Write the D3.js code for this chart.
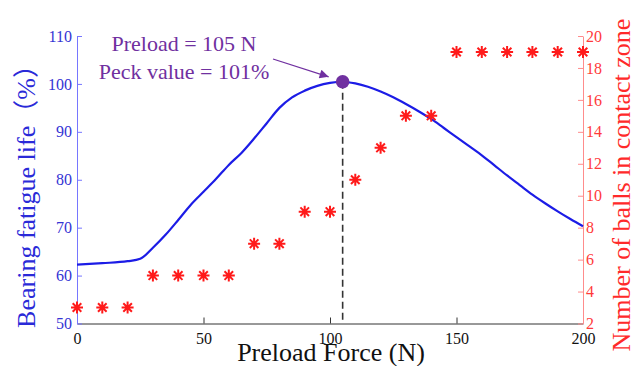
<!DOCTYPE html>
<html lang="en">
<head>
<meta charset="UTF-8" />
<title>Preload force</title>
<script src="https://d3js.org/d3.v7.min.js"></script>
<style>
	body { margin: 0; background: #fff; }
	svg text { font-family: "Liberation Serif", "Noto Sans CJK SC", serif; }
</style>
</head>
<body>
<script>
	// fatigue life curve (left axis, %)
	var lifeForce = [0, 10, 20, 25, 30, 35, 40, 45, 50, 55, 60, 65, 70, 75, 80, 85, 90, 95, 100, 105,
		110, 115, 120, 125, 130, 135, 140, 145, 150, 155, 160, 165, 170, 175, 180, 185, 190, 195, 200];
	var lifeValue = [62.3, 62.6, 63.0, 63.5, 65.8, 68.5, 71.6, 74.8, 77.5, 80.2, 83.1, 85.6, 88.6, 91.8, 95.0, 97.2, 98.6, 99.6, 100.2, 100.45,
		100.1, 99.4, 98.4, 97.2, 95.8, 94.3, 92.7, 90.8, 88.9, 87.0, 85.1, 83.0, 80.9, 78.9, 76.9, 75.1, 73.4, 71.8, 70.3];

	// number of balls in contact zone (right axis)
	var ballForce = [0, 10, 20, 30, 40, 50, 60, 70, 80, 90, 100, 110, 120, 130, 140, 150, 160, 170, 180, 190, 200];
	var ballCount = [3, 3, 3, 5, 5, 5, 5, 7, 7, 9, 9, 11, 13, 15, 15, 19, 19, 19, 19, 19, 19];

	var xTicks = [0, 50, 100, 150, 200];
	var lifeTicks = [50, 60, 70, 80, 90, 100, 110];
	var ballTicks = [2, 4, 6, 8, 10, 12, 14, 16, 18, 20];

	var peakForce = 105, peakLife = 100.45;
	var noteLines = ["Preload = 105 N", "Peck value = 101%"];

	var W = 635, H = 366;
	var margin = { top: 36, right: 52, bottom: 42.5, left: 77 };
	var width = W - margin.left - margin.right,
		height = H - margin.top - margin.bottom;

	var blue = "#1c1ce6", red = "#ff1a1a", purple = "#7030a0";

	var x = d3.scaleLinear().domain([0, 200]).range([0, width]);
	var yL = d3.scaleLinear().domain([50, 110]).range([height, 0]);
	var yR = d3.scaleLinear().domain([2, 20]).range([height, 0]);

	var svg = d3.select("body").append("svg")
		.attr("width", W).attr("height", H);
	var g = svg.append("g")
		.attr("transform", "translate(" + margin.left + "," + margin.top + ")");

	function styleAxis(sel, lineCol, textCol) {
		sel.attr("font-family", null).attr("font-size", null);
		sel.select(".domain").attr("stroke", lineCol);
		sel.selectAll(".tick line").attr("stroke", lineCol);
		sel.selectAll(".tick text").attr("fill", textCol).attr("font-size", 16);
	}

	// axes (ticks point inwards)
	g.append("g")
		.attr("transform", "translate(0," + height + ")")
		.call(d3.axisBottom(x).tickValues(xTicks).tickSizeInner(-6).tickSizeOuter(0).tickPadding(9))
		.call(styleAxis, "#333", "#111");

	g.append("g")
		.call(d3.axisLeft(yL).tickValues(lifeTicks).tickSizeInner(-5).tickSizeOuter(0).tickPadding(5))
		.call(styleAxis, "#7676ff", "#3434d4");

	g.append("g")
		.attr("transform", "translate(" + width + ",0)")
		.call(d3.axisRight(yR).tickValues(ballTicks).tickSizeInner(-5).tickSizeOuter(0).tickPadding(3))
		.call(styleAxis, "#ff8c8c", "#ff3a3a");

	// fatigue life curve
	g.append("path")
		.datum(lifeForce)
		.attr("fill", "none")
		.attr("stroke", blue)
		.attr("stroke-width", 2.2)
		.attr("d", d3.line()
			.x(d => x(d))
			.y((d, i) => yL(lifeValue[i]))
			.curve(d3.curveMonotoneX));

	// asterisk markers
	var star = "M-6,0L6,0M0,-6L0,6M-4.3,-4.3L4.3,4.3M-4.3,4.3L4.3,-4.3";
	g.selectAll(".star")
		.data(ballForce)
		.enter()
		.append("path")
		.attr("class", "star")
		.attr("transform", (d, i) => "translate(" + x(d) + "," + yR(ballCount[i]) + ")")
		.attr("d", star)
		.attr("stroke", red)
		.attr("stroke-width", 2);

	// peak marker
	g.append("line")
		.attr("x1", x(peakForce)).attr("x2", x(peakForce))
		.attr("y1", yL(peakLife)).attr("y2", height)
		.attr("stroke", "#333")
		.attr("stroke-width", 1.6)
		.attr("stroke-dasharray", "7,4");

	g.append("circle")
		.attr("cx", x(peakForce)).attr("cy", yL(peakLife))
		.attr("r", 6.8)
		.attr("fill", purple);

	// annotation with arrow
	svg.append("defs").append("marker")
		.attr("id", "arrow")
		.attr("viewBox", "0 0 10 10")
		.attr("refX", 10).attr("refY", 5)
		.attr("markerWidth", 11).attr("markerHeight", 9)
		.attr("markerUnits", "userSpaceOnUse")
		.attr("orient", "auto")
		.append("path")
		.attr("d", "M0,0L10,5L0,10Z")
		.attr("fill", purple);

	svg.append("line")
		.attr("x1", 273).attr("y1", 59)
		.attr("x2", margin.left + x(peakForce) - 14).attr("y2", margin.top + yL(peakLife) - 5)
		.attr("stroke", purple)
		.attr("stroke-width", 1.3)
		.attr("marker-end", "url(#arrow)");

	svg.append("g").selectAll("text")
		.data(noteLines)
		.enter()
		.append("text")
		.attr("x", 184)
		.attr("y", (d, i) => 51 + i * 28)
		.attr("text-anchor", "middle")
		.attr("font-size", 22)
		.attr("fill", purple)
		.text(d => d);

	// axis titles
	svg.append("text")
		.attr("x", margin.left + width / 2 + 1)
		.attr("y", 361)
		.attr("text-anchor", "middle")
		.attr("font-size", 26)
		.attr("fill", "#111")
		.text("Preload Force (N)");

	svg.append("text")
		.attr("transform", "translate(35,190) rotate(-90)")
		.attr("text-anchor", "middle")
		.attr("font-size", 26)
		.attr("fill", "#2a2ad8")
		.text("Bearing fatigue life（%）");

	svg.append("text")
		.attr("transform", "translate(630,185) rotate(-90)")
		.attr("text-anchor", "middle")
		.attr("font-size", 26)
		.attr("fill", "#ff2a2a")
		.text("Number of balls in contact zone");
</script>
</body>
</html>
